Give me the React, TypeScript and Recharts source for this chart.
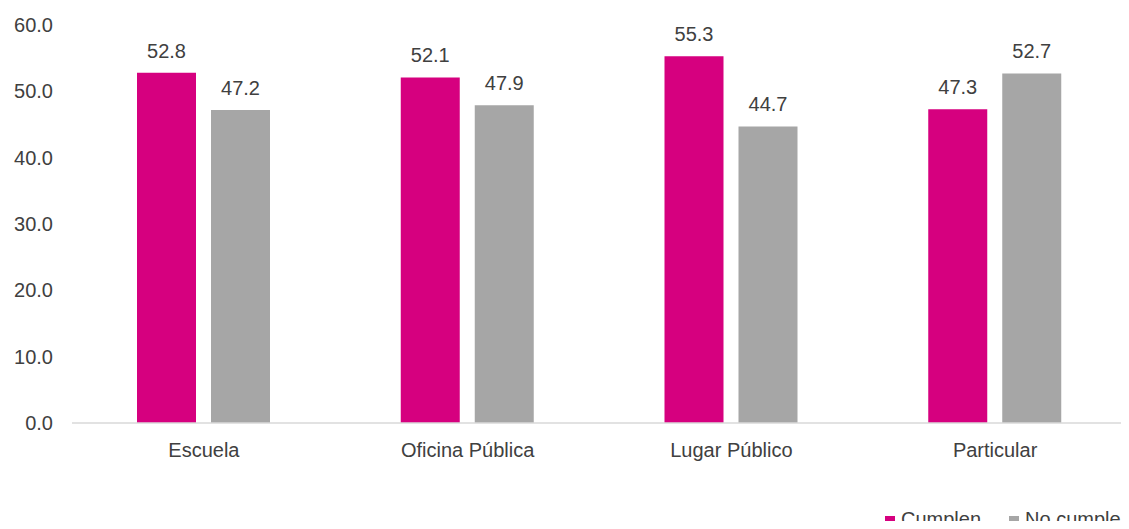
import React from 'react';
import { BarChart, Bar, XAxis, YAxis, LabelList } from 'recharts';

const categories = ['Escuela', 'Oficina Pública', 'Lugar Público', 'Particular'];
const cumplen = [52.8, 52.1, 55.3, 47.3];
const noCumplen = [47.2, 47.9, 44.7, 52.7];
const yTicks = [0, 10, 20, 30, 40, 50, 60];

const PINK = '#d6007f';
const GRAY = '#a6a6a6';
const TEXT = '#404040';
const FONT = '"Liberation Sans", Arial, sans-serif';

const data = categories.map((name, i) => ({
  name,
  cumplen: cumplen[i],
  noCumplen: noCumplen[i],
}));

const fmt = (v: number) => v.toFixed(1);

const App: React.FC = () => {
  return (
    <div
      style={{
        position: 'relative',
        margin: -8,
        width: 1129,
        height: 529,
        overflow: 'hidden',
        background: '#fff',
        fontFamily: FONT,
      }}
    >
      <BarChart
        width={1129}
        height={529}
        data={data}
        margin={{ top: 25, right: 2, bottom: 0, left: 0 }}
        barGap={15}
      >
        <XAxis
          dataKey="name"
          axisLine={{ stroke: '#d9d9d9', strokeWidth: 1.5 }}
          tickLine={false}
          tickSize={0}
          tickMargin={20}
          height={106}
          tick={{ fill: TEXT, fontSize: 20, fontFamily: FONT }}
        />
        <YAxis
          domain={[0, 60]}
          ticks={yTicks}
          tickFormatter={fmt}
          axisLine={false}
          tickLine={false}
          tickSize={0}
          tickMargin={19}
          width={72}
          tick={{ fill: TEXT, fontSize: 20, fontFamily: FONT }}
        />
        <Bar dataKey="cumplen" name="Cumplen" fill={PINK} barSize={59} isAnimationActive={false}>
          <LabelList
            dataKey="cumplen"
            position="top"
            offset={15}
            formatter={(v: any) => fmt(Number(v))}
            style={{ fill: TEXT, fontSize: 20, fontFamily: FONT }}
          />
        </Bar>
        <Bar dataKey="noCumplen" name="No cumplen" fill={GRAY} barSize={59} isAnimationActive={false}>
          <LabelList
            dataKey="noCumplen"
            position="top"
            offset={15}
            formatter={(v: any) => fmt(Number(v))}
            style={{ fill: TEXT, fontSize: 20, fontFamily: FONT }}
          />
        </Bar>
      </BarChart>
      <div
        style={{
          position: 'absolute',
          left: 885,
          top: 508,
          display: 'flex',
          alignItems: 'center',
          whiteSpace: 'nowrap',
          fontSize: 20,
          lineHeight: '23px',
          color: TEXT,
        }}
      >
        {[
          { label: 'Cumplen', color: PINK },
          { label: 'No cumplen', color: GRAY },
        ].map(({ label, color }) => (
          <div key={label} style={{ display: 'flex', alignItems: 'center', marginRight: 28 }}>
            <span style={{ width: 10, height: 10, background: color, marginRight: 6, marginTop: 3 }} />
            {label}
          </div>
        ))}
      </div>
    </div>
  );
};

export default App;
